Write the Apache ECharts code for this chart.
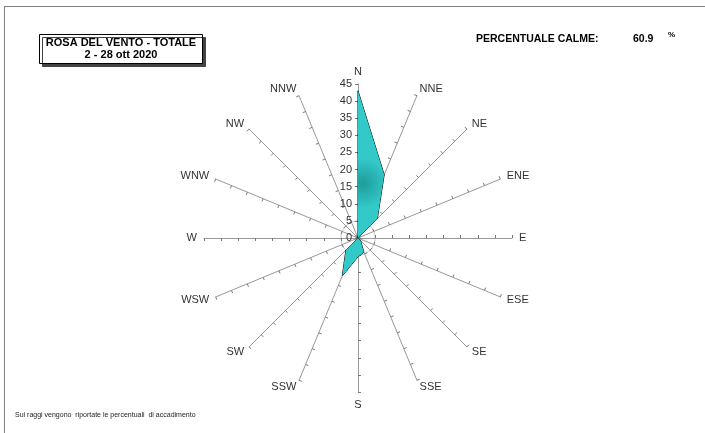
<!DOCTYPE html>
<html>
<head>
<meta charset="utf-8">
<script src="https://cdn.jsdelivr.net/npm/echarts@6/dist/echarts.min.js"></script>
<style>
html,body{margin:0;padding:0;background:#fff;}
#chart{position:absolute;left:0;top:0;width:705px;height:433px;}
#frame{position:absolute;left:4px;top:6px;width:720px;height:440px;border-top:1px solid #808080;border-left:1px solid #808080;pointer-events:none;}
</style>
</head>
<body>
<div id="chart"></div>
<div id="frame"></div>
<script>
// Directions in compass (clockwise) order
const directions = ['N','NNE','NE','ENE','E','ESE','SE','SSE','S','SSW','SW','WSW','W','WNW','NW','NNW'];
// Frequency (%) per direction
const frequencies = [43, 20, 8, 0, 0, 0, 1, 4.5, 5.5, 12, 5, 0, 0, 0, 0, 0];
const axisMax = 45;
const axisStep = 5;
const titleLines = ['ROSA DEL VENTO - TOTALE', '2 - 28 ott 2020'];
const calmLabel = 'PERCENTUALE CALME:';
const calmValue = '60.9';
const calmUnit = '%';
const footnote = 'Sui raggi vengono  riportate le percentuali  di accadimento';

// ECharts radar lays indicators counter-clockwise; reorder so they read clockwise
const order = [0].concat(directions.map((d, i) => i).slice(1).reverse());
const indicators = order.map(i => ({ name: directions[i], min: 0, max: axisMax }));
const radarValues = order.map(i => frequencies[i]);

const splitCount = axisMax / axisStep;
const ringColors = [];
for (let i = 0; i < splitCount; i++) ringColors.push(i === 1 ? '#c8c8c8' : 'rgba(0,0,0,0)');

const C = [358, 238];
const R = 154;
const font = 'Arial, "Liberation Sans", sans-serif';

const chart = echarts.init(document.getElementById('chart'), null, { renderer: 'canvas' });
chart.setOption({
  animation: false,
  backgroundColor: '#fff',
  title: [
    {
      text: titleLines.map(t => '{a|' + t + '}').join('\n'),
      left: 39, top: 34,
      padding: [3, 3, 3, 3],
      backgroundColor: '#fff',
      borderColor: '#000', borderWidth: 1,
      shadowColor: '#444', shadowOffsetX: 3, shadowOffsetY: 3, shadowBlur: 0,
      textStyle: {
        rich: { a: { width: 158, align: 'center', fontSize: 11, fontWeight: 'bold', fontFamily: font, color: '#000', lineHeight: 12 } }
      }
    },
    { text: calmLabel, left: 476, top: 34, padding: 0, textStyle: { fontSize: 10.5, fontWeight: 'bold', fontFamily: font, color: '#000' } },
    { text: calmValue, left: 633, top: 34, padding: 0, textStyle: { fontSize: 10.5, fontWeight: 'bold', fontFamily: font, color: '#000' } },
    { text: calmUnit, left: 668, top: 31, padding: 0, textStyle: { fontSize: 8, fontWeight: 'bold', fontFamily: font, color: '#000' } },
    { text: footnote, left: 15, top: 412, padding: 0, textStyle: { fontSize: 7, fontWeight: 'normal', fontFamily: font, color: '#222' } }
  ],
  radar: {
    center: C, radius: R, startAngle: 90, shape: 'circle',
    splitNumber: splitCount,
    indicator: indicators,
    nameGap: 7,
    axisName: { color: '#333', fontSize: 11, fontFamily: font },
    axisLine: { lineStyle: { color: '#999', width: 1 } },
    axisTick: { show: true, length: 3, lineStyle: { color: '#777', width: 1 } },
    axisLabel: { show: false },
    splitLine: { show: true, lineStyle: { color: ringColors, width: 1 } },
    splitArea: { show: false }
  },
  polar: { center: C, radius: R },
  angleAxis: { type: 'value', min: 0, max: 360, startAngle: 90, show: false },
  radiusAxis: {
    type: 'value', min: 0, max: axisMax, interval: axisStep,
    axisLine: { show: false }, axisTick: { show: false }, splitLine: { show: false },
    axisLabel: { show: true, color: '#333', fontSize: 11, fontFamily: font, margin: 6 }
  },
  series: [
    {
      type: 'radar',
      symbol: 'none',
      lineStyle: { color: '#000', width: 1 },
      areaStyle: {
        opacity: 1,
        color: {
          type: 'radial', x: 0.5, y: 0.5, r: 0.6,
          colorStops: [
            { offset: 0, color: '#1e9c9a' },
            { offset: 1, color: '#34c9c9' }
          ]
        }
      },
      data: [{ value: radarValues }]
    },
    { type: 'line', coordinateSystem: 'polar', data: [], showSymbol: false }
  ]
});
</script>
</body>
</html>
